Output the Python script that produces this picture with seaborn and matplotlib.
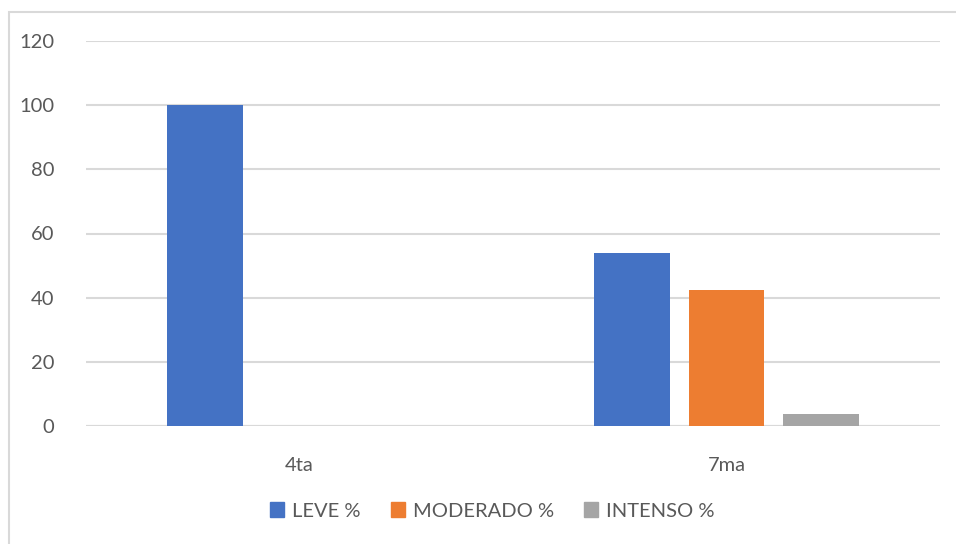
import pandas as pd
import seaborn as sns
import matplotlib.pyplot as plt
from matplotlib.patches import Rectangle

grados = ["4ta", "7ma"]
series = ["LEVE %", "MODERADO %", "INTENSO %"]
leve = [100, 53.85]
moderado = [0, 42.31]
intenso = [0, 3.85]
colores = ["#4472C4", "#ED7D31", "#A5A5A5"]

df = pd.DataFrame({
    "grado": grados * 3,
    "serie": [series[0]] * 2 + [series[1]] * 2 + [series[2]] * 2,
    "valor": leve + moderado + intenso,
})

sns.set_style("white")
plt.rcParams["font.family"] = ["Lato", "DejaVu Sans"]
texto = "#595959"

fig = plt.figure(figsize=(9.56, 5.44), dpi=100)
fig.patches.append(Rectangle((9 / 956, -0.01), 1.0, 1 - 12 / 544 + 0.01,
                             transform=fig.transFigure, fill=False,
                             edgecolor="#d9d9d9", linewidth=1.5))
ax = fig.add_axes([86 / 956, 118 / 544, 854 / 956, 385 / 544])

sns.barplot(data=df, x="grado", y="valor", hue="serie", palette=colores,
            saturation=1, width=0.664, gap=0.2, linewidth=0, legend=False, ax=ax)

ax.set_ylim(0, 120)
ax.set_yticks(range(0, 121, 20))
ax.set_xlim(-0.5, 1.5)
ax.yaxis.grid(True, color="#d9d9d9", linewidth=1.5)
ax.set_axisbelow(True)
sns.despine(ax=ax, left=True, top=True, right=True, bottom=True)
ax.axhline(0, color="#d9d9d9", linewidth=1.5, zorder=0.5)
ax.set_xlabel("")
ax.set_ylabel("")
ax.tick_params(axis="y", length=0, pad=23, labelsize=14.5, labelcolor=texto)
ax.tick_params(axis="x", length=0, pad=22, labelsize=14.5, labelcolor=texto)

handles = [Rectangle((0, 0), 1, 1, color=c) for c in colores]
fig.legend(handles, series, loc="center", bbox_to_anchor=(0.515, 33 / 544),
           ncol=3, frameon=False, fontsize=14.5, labelcolor=texto,
           handlelength=0.7, handleheight=0.7, handletextpad=0.4,
           columnspacing=1.5)

fig.savefig("out.png", dpi=100, facecolor="white")
